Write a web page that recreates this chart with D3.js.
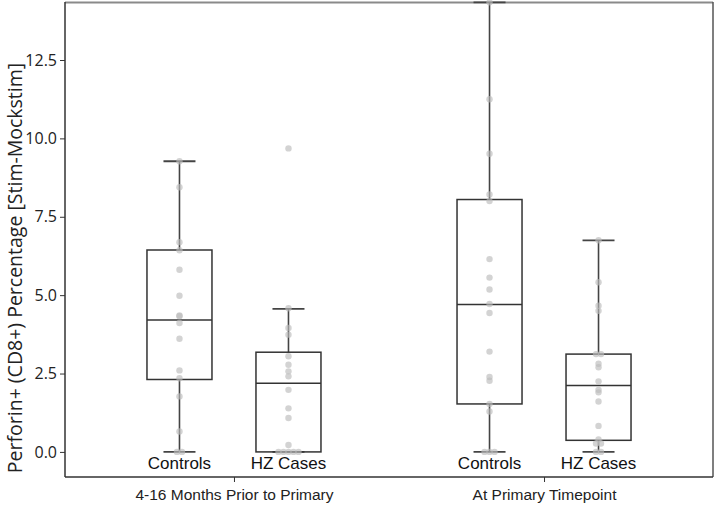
<!DOCTYPE html>
<html>
<head>
<meta charset="utf-8">
<script src="https://cdn.jsdelivr.net/npm/d3@7"></script>
<style>
  html, body { margin: 0; padding: 0; background: #fff; }
  svg { display: block; }
</style>
</head>
<body>
<div id="chart"></div>
<script>
// Chart size and plot frame
const width = 717;
const height = 506;
const margin = { top: 2, right: 4, bottom: 29, left: 65 };

// Categories
const groups = ['4-16 Months Prior to Primary', 'At Primary Timepoint'];
const subgroups = ['Controls', 'HZ Cases'];

// Individual values
const preControls = [9.27, 8.44, 6.69, 6.43, 5.81, 4.98, 4.35, 4.33, 4.11, 3.61, 2.60, 2.35, 1.77, 0.65, 0, 0];
const preHZ = [9.68, 4.58, 3.95, 3.74, 3.05, 2.78, 2.57, 2.41, 1.98, 1.39, 1.08, 0.22, 0, 0, 0, 0, 0];
const primControls = [14.34, 11.25, 9.51, 8.21, 8.00, 6.15, 5.56, 5.18, 4.72, 4.43, 3.20, 2.39, 2.27, 1.53, 1.29, 0, 0, 0];
const primHZ = [6.75, 5.41, 4.66, 4.50, 3.12, 3.12, 2.81, 2.70, 2.25, 1.98, 1.90, 1.61, 0.83, 0.40, 0.27, 0.27, 0, 0];

// Box summaries: [lower whisker, Q1, median, Q3, upper whisker]
const preControlsBox = [0, 2.31, 4.21, 6.44, 9.27];
const preHZBox = [0, 0, 2.19, 3.18, 4.56];
const primControlsBox = [0, 1.53, 4.70, 8.05, 14.34];
const primHZBox = [0, 0.37, 2.12, 3.12, 6.75];

// Y tick values
const yTicks = [0, 2.5, 5, 7.5, 10, 12.5];

const series = [
    { group: groups[0], sub: subgroups[0], values: preControls, box: preControlsBox },
    { group: groups[0], sub: subgroups[1], values: preHZ, box: preHZBox },
    { group: groups[1], sub: subgroups[0], values: primControls, box: primControlsBox },
    { group: groups[1], sub: subgroups[1], values: primHZ, box: primHZBox }
];

const innerW = width - margin.left - margin.right;
const innerH = height - margin.top - margin.bottom;

const svg = d3.select('#chart')
    .append('svg')
    .attr('width', width)
    .attr('height', height);

const g = svg.append('g')
    .attr('transform', `translate(${margin.left},${margin.top})`);

// Scales
const x = d3.scalePoint()
    .domain(groups)
    .range([0, innerW])
    .padding(0.545);

const xSub = d3.scalePoint()
    .domain(subgroups)
    .range([-54.5, 54.5]);

const y = d3.scaleLinear()
    .domain([-0.8, 14.35])
    .range([innerH, 0]);

const boxW = 65;
const capW = 32;
const ink = '#333';

// Frame: top and right edges
g.append('line')
    .attr('x1', 0).attr('x2', innerW)
    .attr('y1', 0.5).attr('y2', 0.5)
    .attr('stroke', '#8a8a8a').attr('stroke-width', 2);
g.append('line')
    .attr('x1', innerW).attr('x2', innerW)
    .attr('y1', 0).attr('y2', innerH)
    .attr('stroke', '#555').attr('stroke-width', 1.5);

// Y axis
const yAxis = g.append('g')
    .call(d3.axisLeft(y).tickValues(yTicks).tickFormat(d3.format('.1f')).tickSize(5).tickPadding(3));
yAxis.select('.domain').attr('stroke', ink).attr('stroke-width', 1.5)
    .attr('d', `M0,0V${innerH}`);
yAxis.selectAll('.tick line').attr('stroke', ink);
yAxis.selectAll('.tick text')
    .attr('fill', '#222')
    .style('font-family', '"Open Sans", sans-serif')
    .style('font-size', '16px');

// X axis (group ticks)
const xAxis = g.append('g')
    .attr('transform', `translate(0,${innerH})`)
    .call(d3.axisBottom(x).tickSize(5).tickPadding(7));
xAxis.select('.domain').attr('stroke', ink).attr('stroke-width', 1.5)
    .attr('d', `M0,0H${innerW}`);
xAxis.selectAll('.tick line').attr('stroke', ink);
xAxis.selectAll('.tick text')
    .attr('fill', '#222')
    .attr('dy', '0.71em')
    .style('font-family', '"Liberation Sans", Arial, sans-serif')
    .style('font-size', '15.5px');

// Y axis title
svg.append('text')
    .attr('transform', `translate(22,${268}) rotate(-90)`)
    .attr('text-anchor', 'middle')
    .attr('fill', '#222')
    .style('font-family', '"Open Sans", sans-serif')
    .style('font-size', '19.5px')
    .text('Perforin+ (CD8+) Percentage [Stim-Mockstim]');

// Boxes
const boxes = g.selectAll('.box')
    .data(series)
    .enter()
    .append('g')
    .attr('class', 'box')
    .attr('transform', d => `translate(${x(d.group) + xSub(d.sub)},0)`);

// Whiskers
boxes.append('line')
    .attr('x1', 0).attr('x2', 0)
    .attr('y1', d => y(d.box[4])).attr('y2', d => y(d.box[3]))
    .attr('stroke', '#444').attr('stroke-width', 1.6);
boxes.append('line')
    .attr('x1', 0).attr('x2', 0)
    .attr('y1', d => y(d.box[1])).attr('y2', d => y(d.box[0]))
    .attr('stroke', '#444').attr('stroke-width', 1.6);
boxes.append('line')
    .attr('x1', -capW / 2).attr('x2', capW / 2)
    .attr('y1', d => y(d.box[4])).attr('y2', d => y(d.box[4]))
    .attr('stroke', '#444').attr('stroke-width', 1.8);
boxes.append('line')
    .attr('x1', -capW / 2).attr('x2', capW / 2)
    .attr('y1', d => y(d.box[0])).attr('y2', d => y(d.box[0]))
    .attr('stroke', '#444').attr('stroke-width', 1.8);

// Box body
boxes.append('rect')
    .attr('x', -boxW / 2)
    .attr('width', boxW)
    .attr('y', d => y(d.box[3]))
    .attr('height', d => y(d.box[1]) - y(d.box[3]))
    .attr('fill', 'none')
    .attr('stroke', ink).attr('stroke-width', 1.5);

// Median
boxes.append('line')
    .attr('x1', -boxW / 2).attr('x2', boxW / 2)
    .attr('y1', d => y(d.box[2])).attr('y2', d => y(d.box[2]))
    .attr('stroke', ink).attr('stroke-width', 1.5);

// Points: equal values are spread side by side
boxes.each(function (d) {
    const counts = d3.rollup(d.values, v => v.length, v => v);
    const seen = new Map();
    const pts = d.values.map(v => {
        const n = counts.get(v);
        const i = seen.get(v) || 0;
        seen.set(v, i + 1);
        return { v, dx: (i - (n - 1) / 2) * 5 };
    });
    d3.select(this).selectAll('circle')
        .data(pts)
        .enter()
        .append('circle')
        .attr('cx', p => p.dx)
        .attr('cy', p => y(p.v))
        .attr('r', 3.2)
        .attr('fill', '#bcbcbc')
        .attr('fill-opacity', 0.65);
});

// Subgroup labels inside the plot
boxes.append('text')
    .attr('y', innerH - 8)
    .attr('text-anchor', 'middle')
    .attr('fill', '#111')
    .style('font-family', '"Liberation Sans", Arial, sans-serif')
    .style('font-size', '17px')
    .text(d => d.sub);
</script>
</body>
</html>
